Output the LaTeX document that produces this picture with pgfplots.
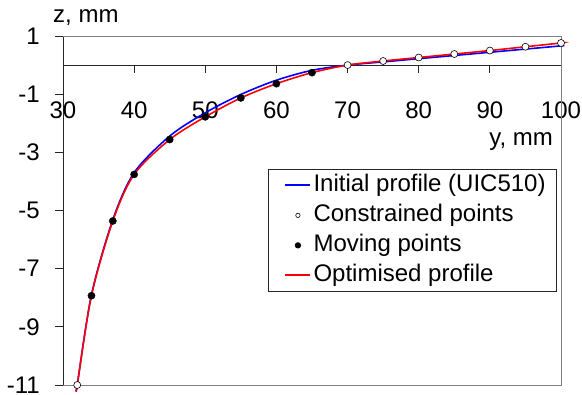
\documentclass[border=0pt]{standalone}
\usepackage{fontspec}
\setmainfont{Liberation Sans}
\usepackage{pgfplots}
\pgfplotsset{compat=1.18}
\newcommand{\bigf}{\fontsize{24}{28}\selectfont}
\pgfplotsset{
  blueleg/.style={legend image code/.code={\path (-7pt,0pt); \draw[blue, line width=2.2pt] (0pt,0pt) -- (25pt,0pt);}},
  redleg/.style={legend image code/.code={\path (-7pt,0pt); \draw[red, line width=2.2pt] (0pt,0pt) -- (25pt,0pt);}},
  openleg/.style={legend image code/.code={\path (-7pt,0pt) (25pt,0pt); \filldraw[fill=white, draw=black, line width=0.6pt] (12.5pt,0pt) circle[radius=2.2pt];}},
  fullleg/.style={legend image code/.code={\path (-7pt,0pt) (25pt,0pt); \fill[black] (12.5pt,0pt) circle[radius=2.7pt];}},
}
\begin{document}
\begin{tikzpicture}
\begin{axis}[
  name=ax,
  scale only axis,
  width=498pt, height=349pt,
  xmin=30, xmax=100, ymin=-11, ymax=1,
  axis x line=middle, axis y line=left,
  hide obscured x ticks=false,
  axis line style={black!85, line width=0.8pt, -},
  xtick={30,40,...,100}, ytick={-11,-9,...,1},
  tick align=outside, major tick length=8pt,
  tick style={black!85, line width=0.8pt},
  /pgf/number format/assume math mode=true,
  ticklabel style={font=\bigf, inner sep=0pt},
  xticklabel style={yshift=-28pt},
  yticklabel style={xshift=-15pt},
  legend style={font=\bigf, at={(0.992,0.619)}, anchor=north east,
    draw=black!85, line width=0.8pt, inner xsep=9pt, inner ysep=3pt, row sep=4pt,
    nodes={inner sep=2pt, text height=17pt, text depth=5pt}},
  legend cell align=left,
  clip=false,
]
\draw[gray, line width=0.8pt] (rel axis cs:0,1) -- (rel axis cs:1,1) -- (rel axis cs:1,0) -- (rel axis cs:0,0);

\addplot[color=blue, line width=1.6pt, smooth, tension=0.5, blueleg] coordinates {
 (31.9,-11.12) (32,-11) (34,-7.9) (37,-5.32) (40,-3.7) (45,-2.44) (50,-1.64) (55,-1.01) (60,-0.52) (65,-0.18) (70,0) (75,0.11) (80,0.22) (85,0.33) (90,0.44) (95,0.55) (100,0.66) (100.4,0.67)
};
\addlegendentry{Initial profile (UIC510)}
\addplot[color=red, line width=1.6pt, smooth, tension=0.5, forget plot] coordinates {
 (31.9,-11.12) (32,-11) (34,-7.93) (37,-5.36) (40,-3.76) (45,-2.56) (50,-1.78) (55,-1.13) (60,-0.64) (65,-0.26) (70,0) (75,0.14) (80,0.26) (85,0.38) (90,0.5) (95,0.63) (100,0.76) (100.4,0.78)
};
\addplot[only marks, mark=*, mark size=3.5pt, mark options={fill=white, draw=black, line width=0.6pt}, openleg] coordinates {
 (32,-11) (70,0) (75,0.14) (80,0.26) (85,0.38) (90,0.5) (95,0.63) (100,0.76)
};
\addlegendentry{Constrained points}
\addplot[only marks, mark=*, mark size=3.6pt, mark options={fill=black, draw=black}, fullleg] coordinates {
 (34,-7.93) (37,-5.36) (40,-3.76) (45,-2.56) (50,-1.78) (55,-1.13) (60,-0.64) (65,-0.26)
};
\addlegendentry{Moving points}
\addlegendimage{redleg}
\addlegendentry{Optimised profile}

\node[font=\bigf, inner sep=0pt, anchor=base east] at (axis cs:98.9,-2.75) {y, mm};
\node[font=\bigf, inner sep=0pt, anchor=base west] at ([xshift=-10pt, yshift=13pt]rel axis cs:0,1) {z, mm};
\end{axis}
\pgfresetboundingbox
\path ([xshift=-63pt,yshift=-10pt]ax.south west) rectangle ([xshift=21pt,yshift=36pt]ax.north east);
\end{tikzpicture}
\end{document}
